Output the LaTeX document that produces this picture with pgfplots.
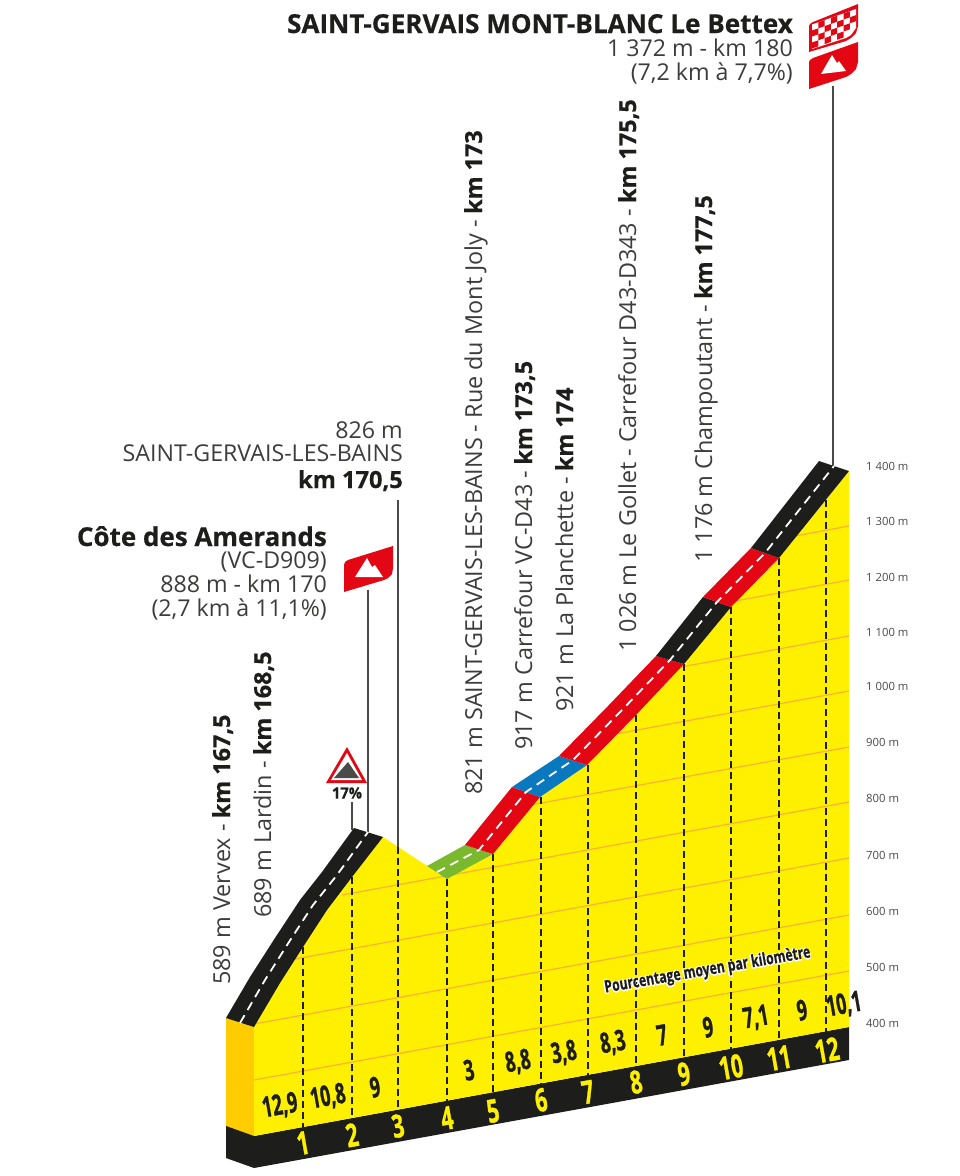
\documentclass[border=0pt]{standalone}
\usepackage{pgfplots}
\pgfplotsset{compat=1.18}
\usepackage{fontspec}
\setmainfont{Open Sans}
\newfontfamily\heavy[UprightFont={* Bold},UprightFeatures={FakeBold=1.2}]{Open Sans}
\newfontfamily\semiheavy[UprightFont={* Bold},UprightFeatures={FakeBold=0.5}]{Open Sans}
\definecolor{cyel}{HTML}{FFF000}
\definecolor{cside}{HTML}{FFCC00}
\definecolor{cblk}{HTML}{1D1D1B}
\definecolor{cred}{HTML}{E30613}
\definecolor{cblue}{HTML}{0A78BE}
\definecolor{cgrn}{HTML}{7AB82E}
\definecolor{cora}{HTML}{F9B233}
\definecolor{ctxt}{HTML}{3C3C3B}
\definecolor{cline}{HTML}{4A4A49}
\newcommand\fs[1]{\fontsize{#1}{#1}\selectfont}
\newcommand\poly[2]{\addplot[fill=#1,draw=none] coordinates {#2} -- cycle;}
\newcommand\vlab[3]{\node[rotate=90,anchor=base west,inner sep=0pt,text=ctxt] at (axis cs:#1,#2) {\fs{23.4}#3};}
\newcommand\vb[1]{{\semiheavy\color{cblk}#1}}
\newcommand\rlab[3]{\node[anchor=base east,inner sep=0pt,text=ctxt] at (axis cs:#1,#2) {\fs{23.2}#3};}
\newcommand\blab[4]{\node[anchor=base east,inner sep=0pt,text=cblk] at (axis cs:#1,#2) {\fs{#4}\semiheavy #3};}
\newcommand\alt[2]{\node[anchor=west,inner sep=0pt,text=cline] at (axis cs:866,#1) {\fs{11.3}#2};}
\newcommand\pct[3]{\node[rotate=10,inner sep=0pt,text=cblk] at (axis cs:#1,#2) {\scalebox{0.62}[1]{\fs{28.5}\heavy #3}};}
\newcommand\kmn[3]{\node[rotate=10,inner sep=0pt,text=cyel] at (axis cs:#1,#2) {\scalebox{0.66}[1]{\fs{32}\heavy #3}};}
\newcommand\cell[2]{\fill[cred] (axis cs:{812+6.3*#1},{24.5-2.2*#1+6*#2}) -- (axis cs:{812+6.3*(#1+1)},{24.5-2.2*(#1+1)+6*#2}) -- (axis cs:{812+6.3*(#1+1)},{24.5-2.2*(#1+1)+6*(#2+1)}) -- (axis cs:{812+6.3*#1},{24.5-2.2*#1+6*(#2+1)}) -- cycle;}
\newcommand\halo[3]{\node[rotate=9.8,inner sep=0pt,text=#3] at (axis cs:#1,#2) {\scalebox{0.72}[1]{\fs{17}\semiheavy Pourcentage moyen par kilomètre}};}
\begin{document}
\begin{tikzpicture}
\path[use as bounding box] (0,0) rectangle (960pt,1176pt);
\begin{axis}[
  at={(0pt,0pt)},anchor=south west,
  width=960pt,height=1176pt,scale only axis,
  xmin=0,xmax=960,ymin=0,ymax=1176,y dir=reverse,
  hide axis,clip=false,no markers]
% side and base
\poly{cside}{(226,1018) (254,1027) (254,1136) (226,1127)}
\poly{cblk}{(226,1126) (254,1136) (849,1027) (849,1060) (254,1168) (226,1158)}
% front face
\poly{cyel}{(254,1027) (280,983) (303,947) (327,910) (352,877) (383,837) (447,879) (493,854) (540,797) (587,765) (636,715) (684,664) (731,607) (779,558) (826,500) (849,471) (849,1027) (254,1136)}
% altitude lines
\addplot[cora,line width=1.2pt] coordinates {(254,1080) (849,971)};
\addplot[cora,line width=1.2pt] coordinates {(254,1024) (849,915)};
\addplot[cora,line width=1.2pt] coordinates {(295,959) (849,858)};
\addplot[cora,line width=1.2pt] coordinates {(342,895) (849,802)};
\addplot[cora,line width=1.2pt] coordinates {(530,805) (849,747)};
\addplot[cora,line width=1.2pt] coordinates {(610,735) (849,691)};
\addplot[cora,line width=1.2pt] coordinates {(670,669) (849,636)};
\addplot[cora,line width=1.2pt] coordinates {(730,602) (849,580)};
\addplot[cora,line width=1.2pt] coordinates {(795,536) (849,526)};
% km lines
\pgfplotsset{kml/.style={cblk,line width=1.1pt,dash pattern=on 7pt off 4pt}}
\addplot[kml] coordinates {(303,947) (303,1127)};
\addplot[kml] coordinates {(352,877) (352,1118)};
\addplot[kml] coordinates {(398,847) (398,1110)};
\addplot[kml] coordinates {(447,879) (447,1101)};
\addplot[kml] coordinates {(493,854) (493,1092)};
\addplot[kml] coordinates {(541,797) (541,1084)};
\addplot[kml] coordinates {(588,765) (588,1075)};
\addplot[kml] coordinates {(636,715) (636,1066)};
\addplot[kml] coordinates {(684,664) (684,1057)};
\addplot[kml] coordinates {(731,607) (731,1049)};
\addplot[kml] coordinates {(779,558) (779,1040)};
\addplot[kml] coordinates {(826,500) (826,1032)};
% poles
\addplot[cline,line width=1.4pt] coordinates {(398,500) (398,847)};
\addplot[cline,line width=1.4pt] coordinates {(368,590) (368,832)};
\addplot[cline,line width=1.4pt] coordinates {(352,802) (352,830)};
\addplot[cline,line width=1.4pt] coordinates {(833,86) (833,466)};
% road
\poly{cblk}{(226,1018) (250,977) (275,938) (300,900) (322,872) (354,828) (383,837) (352,877) (327,910) (303,947) (280,983) (254,1027)}
\poly{cgrn}{(427,866) (465,845) (493,854) (447,879)}
\poly{cred}{(465,845) (512,787) (540,797) (493,854)}
\poly{cblue}{(512,787) (559,756) (587,765) (540,797)}
\poly{cred}{(559,756) (608,706) (656,656) (684,664) (636,715) (587,765)}
\poly{cblk}{(656,656) (703,597) (731,607) (684,664)}
\poly{cred}{(703,597) (751,548) (779,558) (731,607)}
\poly{cblk}{(751,548) (819,461) (849,471) (779,558)}
% centre dashes
\addplot[white,line width=1.8pt,dash pattern=on 9pt off 6pt] coordinates {(240,1023) (265,980) (289,942) (313,905) (337,875) (368,832)};
\addplot[white,line width=1.8pt,dash pattern=on 9pt off 6pt] coordinates {(437,872) (479,850) (526,792) (573,760) (622,710) (670,660) (717,602) (765,553) (834,466)};
% flags
\poly{cred}{(344,565) (345,562) (348,560) (393,546) (393,568) (392,574) (388,578) (384,580) (344,592)}
\poly{white}{(355,577) (367,558) (372,567) (375,565) (383,577)}
\poly{cred}{(809,62) (810,60) (813,58) (858,42) (858,62) (856,69) (851,74) (846,77) (809,89)}
\poly{white}{(821,74) (832,55) (837,63) (839,61) (846,71)}
\poly{cred}{(809,26) (810,24) (813,22) (858,4) (858,26) (856,33) (851,38) (846,41) (809,52)}
\poly{white}{(812,24.5) (856,9) (856,28) (851,35) (846,38) (812,49)}
\cell{1}{0}\cell{3}{0}\cell{5}{0}
\cell{0}{1}\cell{2}{1}\cell{4}{1}\cell{6}{1}
\cell{1}{2}\cell{3}{2}\cell{5}{2}
\cell{0}{3}\cell{2}{3}\cell{4}{3}
% warning sign
\poly{cred}{(347,747) (367,783) (326,783)}
\poly{white}{(347,753) (362,780) (331,780)}
\poly{cline}{(334,778) (348,762) (359,778)}
\node[inner sep=0pt,text=cblk] at (axis cs:347,793) {\scalebox{0.95}[1]{\fs{15.5}\semiheavy 17\%}};
% texts
\blab{793}{33}{SAINT-GERVAIS MONT-BLANC Le Bettex}{26.1}
\rlab{793}{56}{1 372 m - km 180}
\rlab{793}{80}{(7,2 km à 7,7\%)}
\rlab{403}{438}{826 m}
\rlab{403}{461}{SAINT-GERVAIS-LES-BAINS}
\blab{403}{488}{km 170,5}{23.6}
\blab{327}{546}{Côte des Amerands}{26}
\rlab{327}{568}{(VC-D909)}
\rlab{327}{592}{888 m - km 170}
\rlab{327}{616}{(2,7 km à 11,1\%)}
\vlab{230}{985}{589 m Vervex - \vb{km 167,5}}
\vlab{271}{918}{689 m Lardin - \vb{km 168,5}}
\vlab{482}{795}{821 m SAINT-GERVAIS-LES-BAINS - Rue du Mont Joly - \vb{km 173}}
\vlab{532}{750}{917 m Carrefour VC-D43 - \vb{km 173,5}}
\vlab{573}{712}{921 m La Planchette - \vb{km 174}}
\vlab{636}{652}{1 026 m Le Gollet - Carrefour D43-D343 - \vb{km 175,5}}
\vlab{712}{563}{1 176 m Champoutant - \vb{km 177,5}}
% altitude labels
\alt{466}{1 400 m}\alt{521}{1 300 m}\alt{577}{1 200 m}\alt{632}{1 100 m}
\alt{686}{1 000 m}\alt{742}{900 m}\alt{798}{800 m}\alt{855}{700 m}
\alt{911}{600 m}\alt{967}{500 m}\alt{1023}{400 m}
% percentages
\pct{280}{1106}{12,9}\pct{328}{1097}{10,8}\pct{375}{1087}{9}\pct{469}{1070}{3}
\pct{518}{1062}{8,8}\pct{564}{1053}{3,8}\pct{613}{1043}{8,3}\pct{662}{1035}{7}
\pct{708}{1027}{9}\pct{756}{1018}{7,1}\pct{802}{1010}{9}\pct{844}{1005}{10,1}
% km numbers
\kmn{303}{1143}{1}\kmn{352}{1135}{2}\kmn{398}{1126}{3}\kmn{447}{1118}{4}
\kmn{493}{1111}{5}\kmn{541}{1100}{6}\kmn{588}{1092}{7}\kmn{636}{1082}{8}
\kmn{684}{1074}{9}\kmn{731}{1067}{10}\kmn{779}{1058}{11}\kmn{827}{1050}{12}
% caption
\halo{706}{971}{white}\halo{708}{971}{white}\halo{707}{970}{white}\halo{707}{972}{white}
\halo{706}{970}{white}\halo{708}{972}{white}
\halo{707.5}{970.5}{cblk}
\end{axis}
\end{tikzpicture}
\end{document}
